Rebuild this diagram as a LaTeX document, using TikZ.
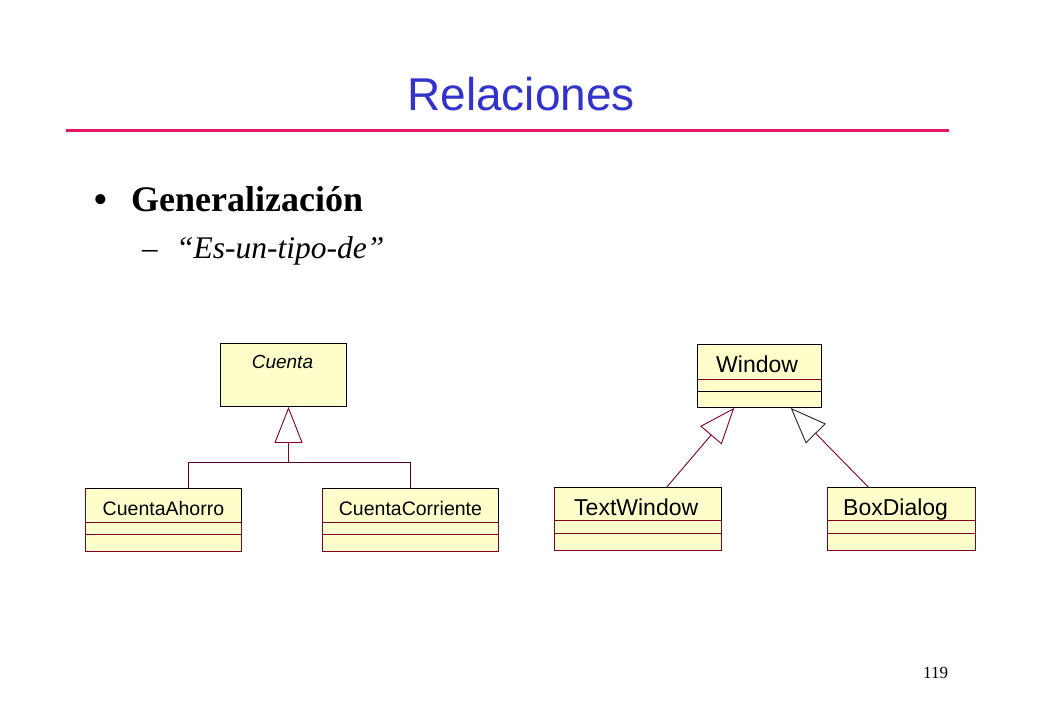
\documentclass[tikz,border=0pt]{standalone}
\usepackage{fontspec}
\setmainfont{Liberation Serif}
\newfontfamily\arialf{Liberation Sans}
\usetikzlibrary{arrows.meta,calc}
\definecolor{titleblue}{RGB}{51,51,204}
\definecolor{rulepink}{RGB}{230,20,100}
\definecolor{umlfill}{RGB}{255,255,204}
\definecolor{umlred}{RGB}{128,0,40}
\newcommand\classparts[4]{%
  % #1 node, #2 first line offset, #3 second line offset, #4 colour of first line
  \draw[#4, line width=0.9pt] ($(#1.north west)+(0,#2)$) -- ($(#1.north east)+(0,#2)$);
  \draw[umlred, line width=0.9pt] ($(#1.north west)+(0,#3)$) -- ($(#1.north east)+(0,#3)$);
}
\begin{document}
\begin{tikzpicture}[x=1pt,y=-1pt,
  classbox/.style={draw=umlred, fill=umlfill, line width=0.9pt, inner sep=0pt, anchor=north west, minimum height=63pt},
  smallname/.style={font=\arialf\fontsize{19.5}{20}\selectfont, inner sep=0pt, anchor=base},
  bigname/.style={font=\arialf\fontsize{23}{24}\selectfont, inner sep=0pt, anchor=base west},
  genline/.style={-{Triangle[open,length=36pt,width=28pt]}, draw=umlred, line width=0.9pt},
  slidetext/.style={inner sep=0pt, anchor=base west},
]
\useasboundingbox (0,0) rectangle (1040,720);

% title
\node[font=\arialf\fontsize{46}{48}\selectfont, text=titleblue, anchor=base, inner sep=0pt] (title) at (521,110) {Relaciones};
\draw[rulepink, line width=3.5pt] (66,130.5) -- (949,130.5);

% bullets
\node[font=\fontsize{42}{42}\selectfont, anchor=base, inner sep=0pt] (bul) at (101,213) {•};
\node[slidetext, font=\bfseries\fontsize{36}{40}\selectfont] (h1) at (131,211) {Generalización};
\node[slidetext, font=\fontsize{31}{32}\selectfont] (dash) at (142,258) {–};
\node[slidetext, font=\itshape\fontsize{31.5}{32}\selectfont] (h2) at (176,258) {“Es-un-tipo-de”};

% page number
\node[slidetext, font=\fontsize{17}{18}\selectfont] (pg) at (923,678) {119};

% ---- left diagram
\node[classbox, draw=black, minimum width=126pt] (cu) at (220,343) {};
\node[smallname, font=\arialf\itshape\fontsize{19}{20}\selectfont] (cuL) at ($(cu.north)+(-1,25)$) {Cuenta};

\node[classbox, minimum width=156pt] (ca) at (85,488) {};
\classparts{ca}{34}{46}{umlred}
\draw[black, line width=0.9pt] (ca.north west) -- (ca.north east) -- ($(ca.north east)+(0,34)$);
\node[smallname] (caL) at ($(ca.north)+(0,27)$) {CuentaAhorro};

\node[classbox, minimum width=176pt] (cc) at (322,488) {};
\classparts{cc}{34}{46}{umlred}
\draw[black, line width=0.9pt] (cc.north west) -- (cc.north east) -- ($(cc.north east)+(0,34)$);
\node[smallname] (ccL) at ($(cc.north)+(0,27)$) {CuentaCorriente};

\coordinate (cuB) at ($(cu.south west)!0.54!(cu.south east)$);
\coordinate (jn) at ($(cuB)+(0,56)$);
\draw[genline] (jn) -- (cuB);
\draw[umlred!70!black, line width=0.9pt] ($(ca.north west)!0.66!(ca.north east)$) |- (jn) -| (cc.north);

% ---- right diagram
\node[classbox, draw=black, minimum width=124pt] (win) at (697,344) {};
\draw[umlred, line width=0.9pt] ($(win.north west)+(0,35)$) -- ($(win.north east)+(0,35)$);
\draw[black, line width=0.9pt] ($(win.north west)+(0,47)$) -- ($(win.north east)+(0,47)$);
\node[bigname] (winL) at ($(win.north west)+(19,28)$) {Window};

\node[classbox, minimum width=167pt] (tw) at (554,487) {};
\classparts{tw}{33}{46}{umlred}
\draw[black, line width=0.9pt] (tw.north west) -- (tw.north east) -- ($(tw.north east)+(0,33)$);
\node[bigname] (twL) at ($(tw.north west)+(20,28)$) {TextWindow};

\node[classbox, minimum width=148pt] (bd) at (827,487) {};
\classparts{bd}{33}{46}{umlred}
\draw[black, line width=0.9pt] (bd.north west) -- (bd.north east);
\node[bigname] (bdL) at ($(bd.north west)+(16,28)$) {BoxDialog};

\draw[genline] ($(tw.north west)!0.672!(tw.north east)$) -- ($(win.south west)!0.298!(win.south east)$);
\draw[genline, -{Triangle[open,length=36pt,width=28pt,color=black!85]}] ($(bd.north west)!0.277!(bd.north east)$) -- ($(win.south west)!0.75!(win.south east)$);
\end{tikzpicture}
\end{document}
